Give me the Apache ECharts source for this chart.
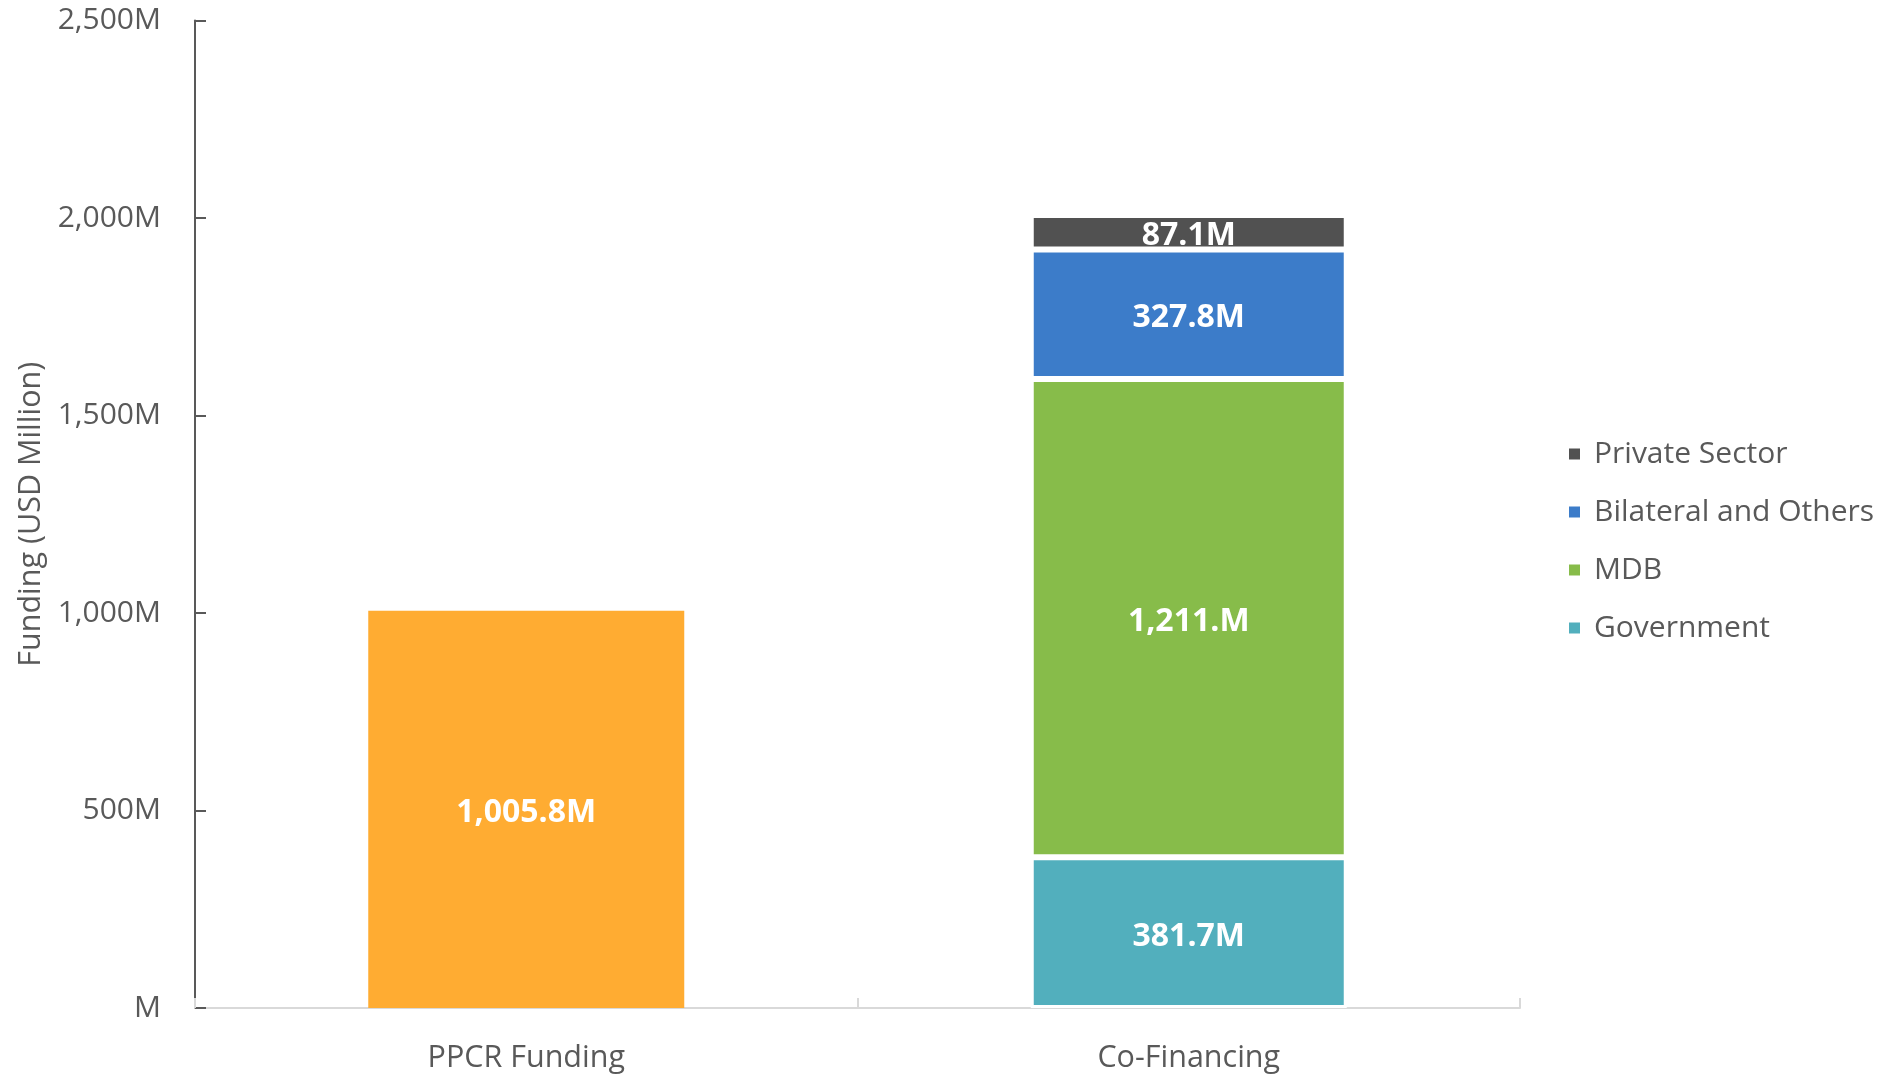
<!DOCTYPE html>
<html>
<head>
<meta charset="utf-8">
<script src="https://cdn.jsdelivr.net/npm/echarts@6/dist/echarts.min.js"></script>
<style>
html,body{margin:0;padding:0;background:#fff;}
#chart{width:1890px;height:1077px;}
</style>
</head>
<body>
<div id="chart"></div>
<script>
const categories = ['PPCR Funding', 'Co-Financing'];
const ppcrValues = [1005.8, '-'];
const governmentValues = ['-', 381.7];
const mdbValues = ['-', 1211.0];
const bilateralValues = ['-', 327.8];
const privateValues = ['-', 87.1];
const ppcrLabels = ['1,005.8M', ''];
const governmentLabels = ['', '381.7M'];
const mdbLabels = ['', '1,211.M'];
const bilateralLabels = ['', '327.8M'];
const privateLabels = ['', '87.1M'];
const yTickLabels = {0: 'M', 500: '500M', 1000: '1,000M', 1500: '1,500M', 2000: '2,000M', 2500: '2,500M'};
const legendNames = ['Private Sector', 'Bilateral and Others', 'MDB', 'Government'];

const FONT = 'Open Sans';
const TXT = '#595959';

function seg(name, data, labels, color, bordered) {
  return {
    name: name,
    type: 'bar',
    stack: 'total',
    barWidth: 316,
    data: data,
    itemStyle: bordered ? {color: color, borderColor: '#ffffff', borderWidth: 3} : {color: color},
    label: {
      show: true,
      position: 'inside',
      offset: [0, 4],
      color: '#ffffff',
      fontFamily: FONT,
      fontWeight: 'bold',
      fontSize: 32,
      formatter: p => labels[p.dataIndex]
    },
    emphasis: {disabled: true}
  };
}

const chart = echarts.init(document.getElementById('chart'));
chart.setOption({
  animation: false,
  backgroundColor: '#ffffff',
  textStyle: {fontFamily: FONT},
  grid: {left: 195, right: 370, top: 20.5, bottom: 69, containLabel: false},
  legend: {
    data: legendNames,
    orient: 'vertical',
    left: 1567,
    top: 439,
    padding: 0,
    itemWidth: 13,
    itemHeight: 13,
    itemGap: 28,
    icon: 'rect',
    textStyle: {color: TXT, fontFamily: FONT, fontSize: 30, lineHeight: 30, padding: [0, 0, 0, 8]}
  },
  xAxis: {
    type: 'category',
    data: categories,
    axisLine: {lineStyle: {color: '#d9d9d9', width: 2}},
    axisTick: {show: true, inside: true, length: 10, lineStyle: {color: '#d9d9d9', width: 2}},
    axisLabel: {color: TXT, fontFamily: FONT, fontSize: 30.5, margin: 35}
  },
  yAxis: {
    type: 'value',
    min: 0,
    max: 2500,
    interval: 500,
    name: 'Funding (USD Million)',
    nameLocation: 'middle',
    nameGap: 148,
    nameTextStyle: {color: TXT, fontFamily: FONT, fontSize: 30.5},
    splitLine: {show: false},
    axisLine: {show: true, lineStyle: {color: '#595959', width: 2}},
    axisTick: {show: true, inside: true, length: 11, lineStyle: {color: '#595959', width: 2}},
    axisLabel: {color: TXT, fontFamily: FONT, fontSize: 30, margin: 34, formatter: v => yTickLabels[v]}
  },
  series: [
    seg('PPCR Funding', ppcrValues, ppcrLabels, '#FFAC32', false),
    seg('Government', governmentValues, governmentLabels, '#52AFBD', true),
    seg('MDB', mdbValues, mdbLabels, '#87BC4A', true),
    seg('Bilateral and Others', bilateralValues, bilateralLabels, '#3C7CC9', true),
    seg('Private Sector', privateValues, privateLabels, '#515151', true)
  ]
});
</script>
</body>
</html>
